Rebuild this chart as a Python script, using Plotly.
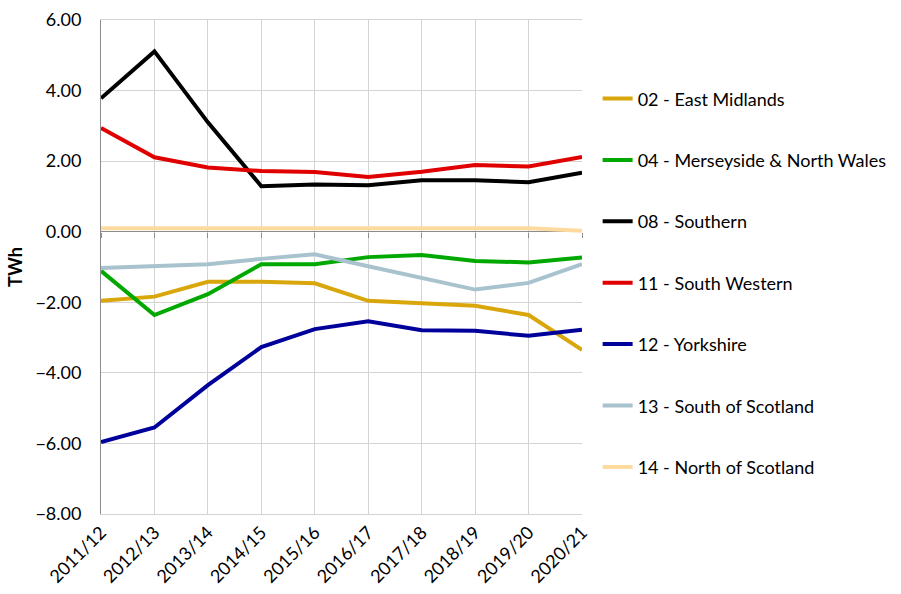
import plotly.graph_objects as go

years = ["2011/12", "2012/13", "2013/14", "2014/15", "2015/16",
         "2016/17", "2017/18", "2018/19", "2019/20", "2020/21"]

east_midlands = [-1.96, -1.84, -1.42, -1.42, -1.46, -1.96, -2.03, -2.10, -2.36, -3.35]
merseyside_nw = [-1.11, -2.36, -1.77, -0.92, -0.92, -0.72, -0.66, -0.83, -0.87, -0.73]
southern = [3.78, 5.11, 3.10, 1.29, 1.34, 1.32, 1.46, 1.46, 1.40, 1.67]
south_western = [2.94, 2.11, 1.82, 1.72, 1.69, 1.55, 1.70, 1.89, 1.85, 2.12]
yorkshire = [-5.96, -5.55, -4.35, -3.27, -2.76, -2.54, -2.79, -2.81, -2.95, -2.78]
south_scotland = [-1.03, -0.97, -0.92, -0.77, -0.64, -0.98, -1.31, -1.64, -1.45, -0.92]
north_scotland = [0.10, 0.10, 0.11, 0.12, 0.12, 0.11, 0.10, 0.10, 0.10, 0.03]

series = [
    ("02 - East Midlands", east_midlands, "#D9A60B"),
    ("04 - Merseyside & North Wales", merseyside_nw, "#00A800"),
    ("08 - Southern", southern, "#000000"),
    ("11 - South Western", south_western, "#E00000"),
    ("12 - Yorkshire", yorkshire, "#00009A"),
    ("13 - South of Scotland", south_scotland, "#A8C3CE"),
    ("14 - North of Scotland", north_scotland, "#FDDBA0"),
]

FONT = "Lato, 'Open Sans', sans-serif"
FS = 18

fig = go.Figure()
for i, (name, vals, color) in enumerate(series):
    fig.add_trace(go.Scatter(
        x=years, y=vals, name=name, mode="lines",
        line=dict(color=color, width=4),
        legendgroup=f"g{i}",
    ))

# secondary x-axis carrying the tick marks along the zero line
fig.add_trace(go.Scatter(
    x=years, y=north_scotland, xaxis="x2", mode="lines",
    line=dict(width=0), showlegend=False, hoverinfo="skip",
))

y_min, y_max = -8, 6
zero_pos = (0 - y_min) / (y_max - y_min)

fig.update_layout(
    width=901, height=594,
    margin=dict(l=101, r=319, t=20, b=80, autoexpand=False),
    paper_bgcolor="white", plot_bgcolor="white",
    font=dict(family=FONT, size=FS, color="#000000"),
    showlegend=True,
    legend=dict(
        x=1.0325, xanchor="left", y=0.468, yanchor="middle",
        font=dict(family=FONT, size=FS, color="#000000"),
        tracegroupgap=35, traceorder="grouped",
        bgcolor="rgba(0,0,0,0)",
    ),
    xaxis=dict(
        type="category", range=[0, 9], automargin=False,
        showgrid=True, gridcolor="#D4D4D4", gridwidth=1,
        showline=True, linecolor="#D4D4D4", mirror=True,
        ticks="", tickangle=-45,
        tickfont=dict(family=FONT, size=FS, color="#000000"),
        zeroline=False,
    ),
    xaxis2=dict(
        type="category", range=[0, 9], overlaying="x",
        anchor="free", position=zero_pos, automargin=False,
        showline=False, showgrid=False, showticklabels=False,
        ticks="outside", ticklen=5, tickcolor="#8C8C8C", tickwidth=1,
    ),
    yaxis=dict(
        range=[y_min, y_max], dtick=2, tickformat=".2f", automargin=False,
        showgrid=True, gridcolor="#D4D4D4", gridwidth=1,
        showline=True, linecolor="#8C8C8C", linewidth=1,
        zeroline=True, zerolinecolor="#8C8C8C", zerolinewidth=1,
        ticks="", ticklabelstandoff=15,
        tickfont=dict(family=FONT, size=FS, color="#000000"),
        title=dict(text="<b>TWh</b>", standoff=8,
                   font=dict(family=FONT, size=FS, color="#000000")),
    ),
)

fig.write_html("out.html")
